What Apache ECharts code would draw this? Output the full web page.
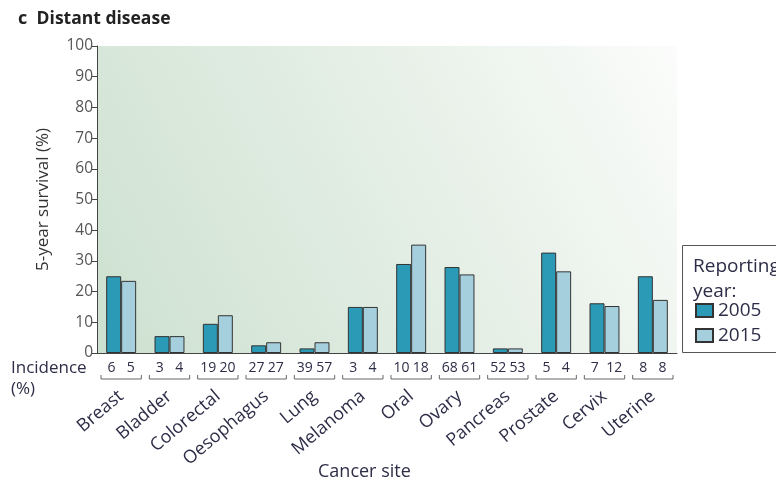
<!DOCTYPE html>
<html>
<head>
<meta charset="utf-8">
<script src="https://cdn.jsdelivr.net/npm/echarts@6/dist/echarts.min.js"></script>
<style>
  html, body { margin: 0; padding: 0; background: #fff; }
  #chart { width: 776px; height: 482px; }
</style>
</head>
<body>
<div id="chart"></div>
<script>
// distant disease 5-year survival, by cancer site
const categories = ['Breast', 'Bladder', 'Colorectal', 'Oesophagus', 'Lung', 'Melanoma',
  'Oral', 'Ovary', 'Pancreas', 'Prostate', 'Cervix', 'Uterine'];
const survival2005 = [25, 5.5, 9.5, 2.5, 1.5, 15, 29, 28, 1.5, 32.7, 16.2, 25];
const survival2015 = [23.5, 5.5, 12.3, 3.5, 3.5, 15, 35.3, 25.6, 1.5, 26.6, 15.3, 17.3];
const incidence2005 = [6, 3, 19, 27, 39, 3, 10, 68, 52, 5, 7, 8];
const incidence2015 = [5, 4, 20, 27, 57, 4, 18, 61, 53, 4, 12, 8];
const seriesNames = ['2005', '2015'];

const FONT = '"Open Sans", "Noto Sans", sans-serif';
const TEXT = '#2d2d48';
const GREY = '#555';

const chart = echarts.init(document.getElementById('chart'));

// incidence numbers + brackets under each category
function renderIncidence(params, api) {
  const i = api.value(0);
  const c = api.coord([i, 0]);
  const w = api.size([1, 0])[0];
  const off = w * 0.2;
  const x0 = c[0] - w / 2 + 4, x1 = c[0] + w / 2 - 4;
  const txt = (v, x) => ({
    type: 'text',
    style: {
      text: String(v), x, y: c[1] + 15,
      align: 'center', verticalAlign: 'middle',
      fill: TEXT, fontSize: 14, fontFamily: FONT,
    },
  });
  return {
    type: 'group',
    children: [
      txt(api.value(1), c[0] - off),
      txt(api.value(2), c[0] + off),
      {
        type: 'polyline',
        shape: { points: [[x0, c[1] + 22], [x0, c[1] + 26], [x1, c[1] + 26], [x1, c[1] + 22]] },
        style: { stroke: '#666', fill: null, lineWidth: 1 },
      },
    ],
  };
}

chart.setOption({
  animation: false,
  textStyle: { fontFamily: FONT },
  title: {
    text: '{c|c}  {t|Distant disease}',
    left: 13, top: 5,
    textStyle: {
      rich: {
        c: { fontSize: 18, fontWeight: 'bold', color: '#222', fontFamily: FONT },
        t: { fontSize: 17.5, fontWeight: 'bold', color: '#222', fontFamily: FONT },
      },
    },
  },
  grid: {
    left: 97, right: 99, top: 46, bottom: 129,
    show: true,
    borderWidth: 0,
    backgroundColor: new echarts.graphic.LinearGradient(0, 1, 1, 0, [
      { offset: 0, color: '#cde1d0' },
      { offset: 0.55, color: '#e5efe6' },
      { offset: 1, color: '#fbfcfb' },
    ]),
  },
  legend: {
    data: seriesNames,
    orient: 'vertical',
    left: 695, top: 301,
    padding: 0,
    icon: 'rect',
    itemWidth: 17, itemHeight: 13, itemGap: 6,
    textStyle: { fontSize: 19, lineHeight: 19, color: TEXT, fontFamily: FONT },
  },
  xAxis: {
    type: 'category',
    data: categories,
    axisLine: { lineStyle: { color: '#444' } },
    axisTick: { length: 5, lineStyle: { color: '#444' } },
    axisLabel: {
      rotate: 40, margin: 41, interval: 0,
      fontSize: 18, color: TEXT, fontFamily: FONT,
    },
  },
  yAxis: {
    type: 'value',
    min: 0, max: 100, interval: 10,
    name: '5-year survival (%)',
    nameLocation: 'middle', nameGap: 45,
    nameTextStyle: { fontSize: 17, color: '#333', fontFamily: FONT },
    axisLine: { show: true, lineStyle: { color: '#444' } },
    axisTick: { show: true, length: 6, lineStyle: { color: '#444' } },
    axisLabel: { fontSize: 15.5, color: GREY, margin: 4, fontFamily: FONT },
    splitLine: { show: false },
  },
  series: [
    {
      name: seriesNames[0], type: 'bar', data: survival2005,
      barGap: '0%', barCategoryGap: '38%',
      itemStyle: { color: '#2a9ab6', borderColor: '#333', borderWidth: 1 },
    },
    {
      name: seriesNames[1], type: 'bar', data: survival2015,
      itemStyle: { color: '#a6cfde', borderColor: '#333', borderWidth: 1 },
    },
    {
      type: 'custom', silent: true, clip: false,
      data: categories.map((c, i) => [i, incidence2005[i], incidence2015[i]]),
      encode: { x: 0 },
      renderItem: renderIncidence,
      z: 5,
    },
  ],
  graphic: [
    {
      type: 'text', left: 11, top: 358,
      style: { text: 'Incidence\n(%)', fontSize: 17, lineHeight: 21, fill: TEXT, fontFamily: FONT },
    },
    {
      type: 'text', left: 318, top: 463,
      style: { text: 'Cancer site', fontSize: 18, fill: TEXT, fontFamily: FONT },
    },
    {
      type: 'rect', left: 682, top: 245,
      shape: { width: 110, height: 107 },
      style: { fill: '#fff', stroke: '#555', lineWidth: 1 },
      z: -1,
    },
    {
      type: 'text', left: 693, top: 254,
      style: { text: 'Reporting\nyear:', fontSize: 19, lineHeight: 25, fill: TEXT, fontFamily: FONT },
    },
  ],
});

window.addEventListener('resize', () => chart.resize());
</script>
</body>
</html>
